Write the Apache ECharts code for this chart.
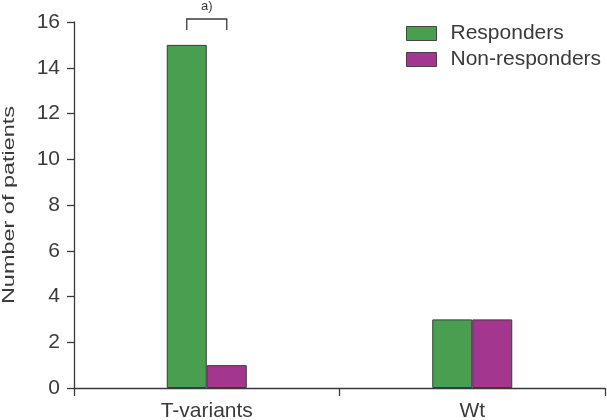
<!DOCTYPE html>
<html><head><meta charset="utf-8">
<script src="https://cdn.jsdelivr.net/npm/echarts@6/dist/echarts.min.js"></script>
<style>html,body{margin:0;padding:0;background:#fff}#c{width:607px;height:420px}</style>
</head><body><div id="c"></div>
<script>
var categories = ['T-variants', 'Wt'];
var responders = [15, 3];
var nonResponders = [1, 3];
var yTicks = {min: 0, max: 16, interval: 2};
var yTitle = 'Number of patients';
var annotationText = 'a)';

var chart = echarts.init(document.getElementById('c'));
var font = 'Liberation Sans, Arial, sans-serif';
var ink = '#3a3a3a';
chart.setOption({
  animation: false,
  textStyle: {fontFamily: font},
  grid: {left: 74, right: 2, top: 22, bottom: 32, containLabel: false, outerBoundsMode: 'none'},
  legend: {
    left: 401, top: 18, orient: 'vertical', itemWidth: 30, itemHeight: 14, itemGap: 5,
    icon: 'rect',
    itemStyle: {borderColor: '#444', borderWidth: 1},
    textStyle: {fontSize: 21, color: ink, fontFamily: font, padding: [0, 0, 0, 9]},
    data: ['Responders', 'Non-responders']
  },
  xAxis: {
    type: 'category', data: categories,
    axisLine: {lineStyle: {color: ink, width: 1.3}},
    axisTick: {show: true, length: 8, lineStyle: {color: ink, width: 1.3}},
    axisLabel: {fontSize: 21, color: ink, margin: 13, fontFamily: font}
  },
  yAxis: {
    type: 'value', min: yTicks.min, max: yTicks.max, interval: yTicks.interval,
    axisLine: {show: true, lineStyle: {color: ink, width: 1.3}},
    axisTick: {show: true, length: 7, lineStyle: {color: ink, width: 1.3}},
    axisLabel: {fontSize: 21, color: ink, margin: 14, fontFamily: font},
    splitLine: {show: false}
  },
  series: [
    {name: 'Responders', type: 'bar', data: responders, barWidth: 40, barGap: '0%',
      itemStyle: {color: '#4a9e50', borderColor: '#3a3a3a', borderWidth: 1}},
    {name: 'Non-responders', type: 'bar', data: nonResponders, barWidth: 40, barGap: '0%',
      itemStyle: {color: '#a3378f', borderColor: '#3a3a3a', borderWidth: 1}}
  ]
});

// annotation bracket above T-variants bars, spanning bar centres
var cx = chart.convertToPixel({xAxisIndex: 0}, categories[0]);
var topY = chart.convertToPixel({yAxisIndex: 0}, yTicks.max);
var botY = chart.convertToPixel({yAxisIndex: 0}, yTicks.min);
var x1 = cx - 20, x2 = cx + 20;
var yb = topY - 3;
chart.setOption({
  graphic: [
    {type: 'polyline', shape: {points: [[x1, yb + 11], [x1, yb], [x2, yb], [x2, yb + 11]]},
      style: {stroke: ink, lineWidth: 1.3, fill: null}},
    {type: 'text', x: cx, y: yb - 6, style: {text: annotationText, fontSize: 13, fill: ink,
      textAlign: 'center', textVerticalAlign: 'bottom', fontFamily: font}},
    {type: 'text', x: 9.5, y: (topY + botY) / 2, rotation: Math.PI / 2, scaleX: 1.38,
      style: {text: yTitle, fontSize: 17, fill: ink, textAlign: 'center',
        textVerticalAlign: 'middle', fontFamily: font}}
  ]
});
</script></body></html>
